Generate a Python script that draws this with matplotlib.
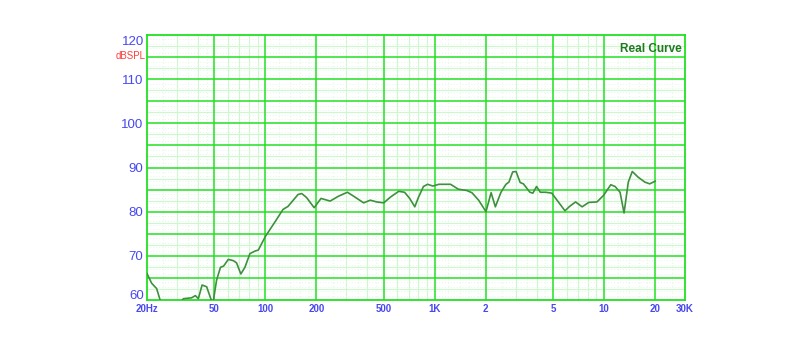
import matplotlib
matplotlib.use("Agg")
import matplotlib.pyplot as plt

freq_hz = [20, 21.3, 22.8, 23.9, 26, 29, 32.8, 36.7, 38.6, 40.2, 42.3, 45, 47.5, 49,
           51.5, 54.3, 56.7, 60.4, 64.8, 67.6, 71.6, 75.7, 81, 87, 90.8, 100, 114,
           127, 136, 146, 156, 164, 175, 194, 213, 241, 270, 305, 338, 380, 416,
           455, 500, 547, 612, 663, 711, 762, 802, 857, 907, 974, 1057, 1239, 1376,
           1543, 1656, 1815, 2005, 2150, 2278, 2459, 2631, 2740, 2883, 3019, 3192,
           3335, 3644, 3793, 3987, 4197, 4519, 4904, 5364, 5868, 6251, 6778, 7412,
           8107, 9063, 9920, 10940, 11600, 12410, 13100, 13880, 14650, 15880,
           17370, 18570, 20000]
spl_db = [66.0, 63.8, 62.6, 60.0, 57.5, 57.8, 60.3, 60.5, 61.0, 60.3, 63.4, 63.0, 60.4, 59.2,
          64.5, 67.4, 67.7, 69.2, 68.9, 68.4, 65.9, 67.4, 70.5, 71.1, 71.3, 74.4, 77.7,
          80.5, 81.2, 82.6, 83.9, 84.1, 83.2, 80.9, 83.0, 82.4, 83.5, 84.4, 83.3, 82.0, 82.6,
          82.2, 82.0, 83.3, 84.6, 84.4, 83.0, 81.1, 83.3, 85.7, 86.2, 85.8, 86.2, 86.2, 85.1,
          84.8, 84.3, 82.6, 80.0, 84.3, 81.1, 84.4, 86.2, 86.7, 89.0, 89.1, 86.6,
          86.3, 84.4, 84.2, 85.7, 84.4, 84.4, 84.2, 82.2, 80.2, 81.2, 82.2, 81.1,
          82.1, 82.2, 83.7, 86.1, 85.7, 84.4, 79.7, 86.7, 89.1, 87.8,
          86.7, 86.3, 86.9]

x_tick_pos = [20, 50, 100, 200, 500, 1000, 2000, 5000, 10000, 20000, 30000]
x_tick_labels = ["20Hz", "50", "100", "200", "500", "1K", "2", "5", "10", "20", "30K"]
y_tick_pos = [70, 80, 90, 100, 110]

GRID = "#22e022"
LIGHT = "#cdf8cd"
FAINT = "#e2fbe2"
BLUE = "#4848f0"

fig = plt.figure(figsize=(8, 3.59), dpi=100)
ax = fig.add_axes([0.18375, 0.1643, 0.6725, 0.7382])
ax.set_xscale("log")
ax.set_xlim(20, 30000)
ax.set_ylim(60, 120)

# vertical grid: bright at labelled freqs, light / dotted in between
for dec in [10, 100, 1000, 10000]:
    for m in [1.2, 1.4, 1.6, 1.8, 2.5, 3.5, 4.5]:
        f = m * dec
        if 20 < f < 30000:
            ax.axvline(f, color=FAINT, lw=0.8, ls=(0, (1, 2)), zorder=1)
    for m in [3, 4, 6, 7, 8, 9]:
        f = m * dec
        if 20 < f < 30000:
            ax.axvline(f, color=LIGHT, lw=0.8, zorder=1)
for f in x_tick_pos[1:-1]:
    ax.axvline(f, color=GRID, lw=1.1, zorder=2)

# horizontal grid
for v in range(60, 121):
    if v % 5 == 0:
        continue
    ax.axhline(v, color=FAINT, lw=0.7, ls=(0, (1, 2)), zorder=1)
for k in range(12):
    ax.axhline(62.5 + 5 * k, color=LIGHT, lw=0.8, zorder=1)
for v in range(65, 120, 5):
    ax.axhline(v, color=GRID, lw=1.1, zorder=2)

ax.plot(freq_hz, spl_db, color="#3f8f3f", lw=1.2, zorder=3)

for s in ax.spines.values():
    s.set_color(GRID)
    s.set_linewidth(1.3)

ax.minorticks_off()
ax.set_xticks(x_tick_pos)
ax.set_xticklabels(x_tick_labels, fontsize=7, fontweight="bold", color=BLUE,
                   family="Liberation Sans")
ax.set_yticks(y_tick_pos)
ax.set_yticklabels([str(v) for v in y_tick_pos], fontsize=9.5, color=BLUE,
                   family="Liberation Sans")
ax.tick_params(length=0, pad=3)

ytr = ax.get_yaxis_transform()
ax.text(-0.005, 118.4, "120", transform=ytr, ha="right", va="center",
        fontsize=9.5, color=BLUE, family="Liberation Sans")
ax.text(-0.005, 60.8, "60", transform=ytr, ha="right", va="center",
        fontsize=9.5, color=BLUE, family="Liberation Sans")
ax.text(-0.003, 115.3, "dBSPL", transform=ytr, ha="right", va="center",
        fontsize=7, color="#ff3b3b", family="Liberation Sans")
ax.text(0.994, 0.97, "Real Curve", transform=ax.transAxes, ha="right", va="top",
        fontsize=8.5, fontweight="bold", color="#1f7a1f", family="Liberation Sans")

fig.savefig("out.png", dpi=100)
